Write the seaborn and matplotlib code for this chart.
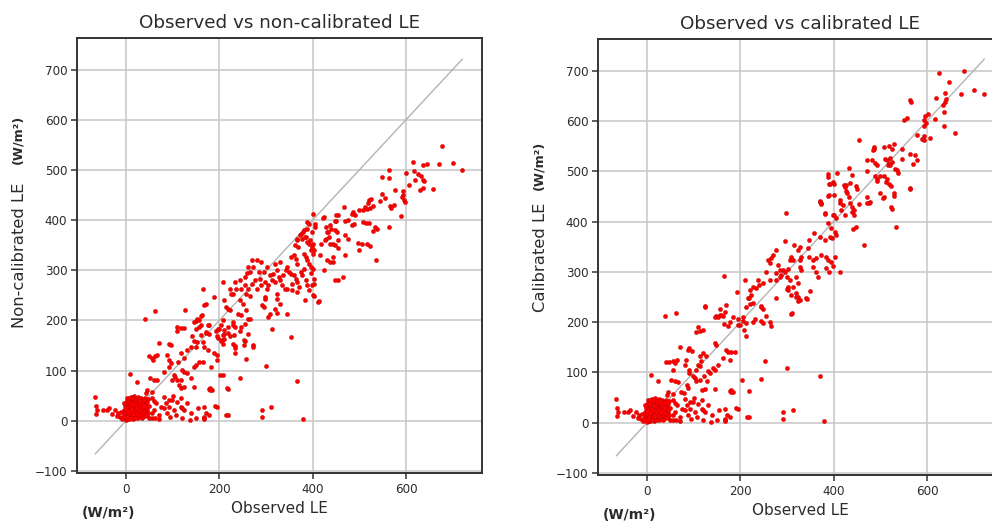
import matplotlib
matplotlib.use("Agg")
import matplotlib.pyplot as plt
import numpy as np
import pandas as pd
import seaborn as sns

# Observations shared by both panels: the dense cluster near the origin
origin_obs = [
    -66, -64, -63, -65, -50, -41, -37, -23, -18, -12,
    -5, -30, -20, -8, -10,
    0, 2, 4, 6, 8, 10, 12, 14, 16, 18,
    20, 22, 24, 26, 28, 30, 32, 34, 36, 38,
    1, 3, 5, 7, 9, 11, 13, 15, 17, 19,
    21, 23, 25, 27, 29, 31, 33, 35, 37, 40,
    -2, -4, -1, -3, -6, 0, 2, 4, 6, 8,
    10, 12, 14, 16, 18, 20, 22, 24, 26, 28,
    30, 32, 34, 36, 38, 42, 44, 41, 43, 45,
    3, 5, 7, 9, 11, 13, 15, 17, 19, 21,
    23, 25, 27, 29, 31, 33, 35, 37, 39, 1,
    -1, 5, 9, 13, 17, 21, 25, 29, 33, 14,
    18, 22, 26, 30, 10, 6, 16, 20, 24, 12,
    8, 4, 28, 32, 36, 40, 44, 19, 11, 3,
    15, 23, 27, 31, 35, 7, -5, 46, 48, 47,
]
origin_le = [
    48, 29, 21, 14, 22, 21, 25, 21, 16, 8,
    11, 14, 10, 3, 18,
    5, 12, 18, 25, 30, 22, 15, 28, 35, 20,
    26, 31, 18, 40, 24, 33, 21, 28, 14, 36,
    28, 35, 9, 16, 40, 33, 8, 19, 42, 12,
    38, 10, 29, 16, 44, 11, 39, 23, 30, 18,
    15, 22, 2, 30, 8, 38, 45, 3, 33, 10,
    47, 36, 4, 26, 49, 7, 43, 35, 6, 37,
    15, 46, 9, 41, 25, 32, 12, 45, 26, 38,
    20, 27, 4, 19, 26, 45, 11, 30, 36, 17,
    24, 48, 33, 20, 27, 15, 36, 19, 42, 17,
    24, 14, 31, 22, 24, 29, 21, 31, 24, 17,
    27, 21, 27, 22, 28, 20, 14, 32, 25, 24,
    36, 40, 12, 34, 29, 10, 21, 5, 6, 8,
    33, 14, 44, 39, 6, 46, 35, 28, 15, 43,
]

# Low-flux observations (also identical in both panels)
low_obs = [
    49, 56, 63, 70, 74, 81, 92, 103, 117, 124,
    139, 150, 168, 171, 178, 196, 218, 81, 92, 99,
    85, 117, 45, 56, 42, 117, 124, 146, 178, 185,
    218, 138, 120, 120, 168, 168, 168, 191, 181, 181,
    215, 55, 60, 65, 70, 95, 108, 130, 155, 55,
    50, 60, 88, 100, 110,
]
low_le = [
    5, 5, 5, 3, 28, 25, 27, 21, 28, 21,
    15, 5, 5, 15, 11, 27, 11, 48, 41, 41,
    35, 45, 61, 58, 55, 65, 68, 68, 63, 61,
    63, 1, 5, 25, 3, 8, 28, 30, 65, 62,
    11, 15, 22, 35, 12, 8, 12, 35, 25, 45,
    30, 40, 15, 50, 38,
]

# Remaining observations, non-calibrated model
noncal_obs = [
    9, 24, 52, 59, 67, 103, 106, 99, 110, 113,
    92, 81, 117, 139, 207, 124, 131, 120, 146, 150,
    182, 157, 164, 117, 124, 112, 131, 139, 175, 189,
    196, 88, 92, 96, 49, 56, 63, 67, 58, 153,
    150, 70, 92, 96, 171, 160, 198, 205, 211, 218,
    207, 177, 198, 110, 117, 124, 109, 162, 157, 150,
    160, 63, 40, 126, 171, 202, 216, 245, 195, 258,

    400, 389, 393, 424, 454, 451, 429, 434, 440, 447,
    452, 436, 429, 454, 448, 444, 386, 389, 393, 396,
    403, 400, 375, 378, 382, 366, 363, 382, 385, 389,
    393, 396, 400, 443, 444, 454, 360, 353, 364, 367,
    382, 375, 378, 385, 389, 393, 396, 402, 404, 411,
    400, 383, 345, 349, 342, 353, 337, 331, 360, 364,
    367, 356, 371, 345, 356, 366, 320, 324, 327, 316,
    309, 313, 320, 305, 331, 335, 340, 302, 296, 324,
    323, 331, 298, 303, 280, 289, 269, 280, 289, 262,
    273, 266, 284, 256, 260, 287, 276, 269, 262, 258,
    266, 298, 295, 291, 309, 324, 345, 305, 320, 313,
    353, 244, 255, 247, 233, 236, 229, 222, 225, 207,
    211, 215, 222, 218, 244, 251, 258, 262, 240, 247,
    266, 255, 298, 189, 167, 164, 160, 207, 204, 200,
    153, 146, 149, 156, 175, 178, 171, 193, 196, 211,
    211, 222, 229, 233, 229, 247, 244, 262, 229, 233,
    255, 142, 146, 167, 164, 204, 207, 218, 300, 311,
    291, 291, 366, 379, 252, 252, 234, 234, 231, 273,
    273, 448, 466, 438, 413, 402, 399, 536, 470, 500,
    455, 425, 430, 415,

    677, 721, 700, 671, 659, 616, 637, 646, 564, 563,
    548, 601, 617, 625, 632, 637, 639, 619, 607, 630,
    636, 593, 594, 591, 596, 597, 577, 548, 555, 544,
    566, 574, 569, 521, 526, 519, 512, 509, 516, 523,
    530, 590, 564, 537, 530, 487, 484, 491, 500, 468,
    448, 451, 469, 476, 423, 507, 514, 521, 485, 489,
    534, 405, 398, 437, 430, 426, 419, 437, 469, 476,
    498, 505, 517, 523, 387, 380, 373, 384, 366, 369,
    394, 398, 401, 405,
]
noncal_le = [
    93, 78, 85, 81, 81, 91, 88, 81, 81, 71,
    108, 98, 81, 85, 91, 98, 95, 101, 108, 111,
    108, 118, 118, 135, 125, 118, 141, 148, 141, 135,
    131, 131, 121, 115, 129, 125, 129, 131, 121, 158,
    148, 155, 153, 151, 175, 171, 165, 161, 181, 175,
    171, 191, 183, 187, 185, 185, 180, 211, 201, 198,
    191, 218, 203, 220, 233, 92, 65, 85, 122, 123,

    412, 397, 393, 407, 410, 399, 387, 377, 383, 380,
    377, 367, 363, 360, 350, 353, 367, 357, 353, 340,
    340, 333, 373, 363, 380, 360, 350, 333, 327, 320,
    313, 307, 303, 327, 317, 280, 330, 327, 323, 313,
    303, 297, 290, 280, 270, 260, 295, 283, 273, 237,
    250, 240, 307, 297, 300, 293, 290, 317, 290, 283,
    277, 273, 267, 263, 260, 257, 313, 300, 287, 293,
    290, 280, 277, 270, 280, 270, 263, 307, 297, 253,
    243, 233, 277, 263, 263, 270, 320, 321, 317, 307,
    307, 297, 297, 287, 295, 283, 280, 273, 263, 253,
    248, 243, 227, 230, 213, 215, 213, 207, 223, 183,
    168, 280, 270, 263, 277, 263, 253, 263, 253, 277,
    240, 227, 220, 223, 240, 233, 220, 203, 213, 210,
    203, 193, 247, 247, 230, 263, 208, 200, 190, 183,
    203, 197, 183, 187, 190, 173, 177, 180, 170, 173,
    163, 170, 197, 187, 190, 187, 180, 173, 153, 150,
    160, 170, 160, 147, 157, 160, 153, 187, 110, 27,
    22, 7, 80, 3, 151, 161, 135, 145, 171, 151,
    148, 280, 286, 317, 238, 248, 271, 321, 330, 340,
    345, 300, 320, 330,

    548, 499, 513, 512, 462, 515, 510, 511, 499, 483,
    485, 493, 497, 492, 487, 480, 477, 480, 471, 460,
    465, 459, 450, 447, 440, 437, 461, 452, 445, 439,
    428, 430, 425, 440, 443, 435, 427, 420, 423, 425,
    428, 408, 387, 383, 379, 417, 412, 411, 420, 427,
    399, 410, 399, 400, 405, 397, 395, 395, 390, 393,
    387, 387, 377, 390, 377, 360, 353, 353, 370, 363,
    355, 353, 353, 348, 383, 377, 370, 367, 363, 347,
    360, 347, 353, 393,
]

# Remaining observations, calibrated model
cal_obs = [
    39, 62, 125, 170, 168, 163, 156, 147, 109, 113,
    105, 120, 174, 177, 195, 206, 213, 207, 212, 145,
    148, 70, 91, 87, 97, 170, 174, 181, 188, 120,
    113, 127, 41, 48, 55, 61, 64, 84, 82, 109,
    116, 113, 152, 141, 163, 177, 55, 91, 90, 130,
    134, 145, 105, 102, 98, 123, 128, 113, 105, 9,
    23, 52, 61, 66, 87, 85, 73, 80, 370, 300,
    312, 292, 292, 379, 245, 204, 252,

    390, 399, 423, 370, 374, 388, 413, 420, 427, 381,
    399, 406, 388, 395, 402, 406, 397, 392, 359, 370,
    381, 348, 345, 327, 323, 316, 295, 309, 306, 313,
    327, 331, 348, 356, 363, 374, 384, 388, 395, 291,
    302, 327, 331, 356, 363, 367, 384, 391, 399, 404,
    413, 277, 270, 266, 259, 263, 280, 284, 288, 295,
    300, 306, 320, 324, 313, 302, 303, 309, 320, 324,
    327, 309, 341, 277, 284, 276, 256, 263, 249, 238,
    241, 234, 227, 220, 223, 216, 209, 192, 245, 249,
    244, 227, 219, 221, 213, 256, 277, 266, 264, 245,
    249, 231, 227, 206, 199, 184, 166, 156, 164, 124,
    145, 152, 159, 195, 297, 311, 320, 324, 342, 349,
    300, 449, 466, 534, 524, 563, 441,

    679, 626, 648, 701, 723, 673, 638, 641, 639, 634,
    636, 620, 564, 566, 602, 596, 593, 598, 594, 618,
    637, 661, 606, 593, 589, 594, 579, 550, 557, 454,
    486, 487, 484, 508, 518, 525, 529, 546, 546, 564,
    575, 579, 571, 511, 514, 521, 525, 518, 516, 521,
    532, 536, 538, 471, 482, 489, 493, 432, 439, 407,
    387, 389, 471, 489, 494, 493, 499, 509, 514, 513,
    518, 523, 564, 400, 393, 427, 425, 391, 400, 436,
    449, 450, 429, 434, 471, 479, 475, 500, 507, 506,
    529, 530, 525, 454, 471, 414, 416, 436, 439, 439,
    443, 444, 371, 373, 382, 400, 425,
]
cal_le = [
    212, 219, 233, 235, 220, 212, 215, 213, 191, 182,
    180, 184, 193, 200, 195, 202, 199, 185, 172, 159,
    155, 151, 149, 145, 142, 145, 140, 140, 140, 139,
    133, 132, 120, 120, 122, 119, 124, 125, 115, 115,
    122, 112, 115, 109, 129, 125, 104, 105, 99, 102,
    99, 104, 105, 89, 92, 93, 82, 85, 82, 95,
    82, 85, 82, 81, 69, 75, 62, 60, 93, 108,
    25, 22, 7, 3, 87, 85, 122,

    475, 478, 473, 440, 437, 451, 443, 433, 460, 417,
    413, 407, 397, 387, 380, 373, 367, 370, 377, 370,
    363, 363, 347, 350, 343, 353, 362, 330, 323, 323,
    323, 330, 330, 323, 327, 333, 330, 323, 320, 303,
    305, 309, 303, 310, 300, 290, 307, 300, 311, 329,
    300, 343, 333, 327, 323, 317, 313, 303, 293, 300,
    290, 283, 290, 277, 270, 270, 263, 253, 257, 250,
    243, 217, 247, 283, 290, 297, 300, 283, 277, 283,
    273, 267, 270, 263, 253, 247, 283, 260, 233, 227,
    230, 238, 247, 237, 230, 213, 247, 193, 200, 203,
    198, 207, 200, 210, 195, 210, 197, 227, 291, 231,
    211, 210, 215, 207, 417, 219, 249, 242, 245, 261,
    265, 389, 354, 389, 429, 467, 385,

    700, 696, 678, 661, 654, 653, 656, 643, 638, 632,
    618, 646, 642, 638, 614, 610, 602, 596, 590, 603,
    590, 576, 567, 570, 565, 563, 572, 602, 605, 563,
    549, 544, 542, 549, 550, 545, 554, 545, 525, 535,
    532, 522, 515, 525, 522, 527, 519, 515, 512, 512,
    505, 502, 497, 522, 523, 517, 512, 507, 492, 497,
    494, 489, 501, 490, 485, 481, 490, 490, 484, 479,
    475, 470, 464, 474, 474, 472, 468, 452, 452, 477,
    470, 464, 457, 448, 449, 439, 437, 457, 449, 446,
    457, 450, 424, 434, 436, 437, 422, 437, 429, 419,
    423, 414, 439, 435, 416, 413, 413,
]

x_ticks = [0, 200, 400, 600]
y_ticks = [-100, 0, 100, 200, 300, 400, 500, 600, 700]

TEXT = "#2b2b2b"

sns.set_style("ticks")
plt.rcParams["font.family"] = ["DejaVu Sans"]
plt.rcParams["axes.edgecolor"] = "#333333"
plt.rcParams["axes.linewidth"] = 1.4

fig = plt.figure(figsize=(9.92, 5.25), dpi=100)
W, H = 992, 525
ax_left = fig.add_axes([77 / W, 1 - 473 / H, 405 / W, 435 / H])
ax_right = fig.add_axes([598 / W, 1 - 475 / H, 405 / W, 436 / H])


def panel(ax, obs, le, title, ylab, unit_y):
    df = pd.DataFrame({"obs": obs, "model": le})
    ax.set_axisbelow(True)
    ax.grid(True, color="#c6c6c6", linewidth=1.1)
    lo, hi = df["obs"].min(), df["obs"].max()
    ax.plot([lo, hi], [lo, hi], color="#b3b3b3", linewidth=1.0, zorder=2)
    sns.scatterplot(data=df, x="obs", y="model", ax=ax, color="red",
                    s=9, edgecolor="#c40000", linewidth=0.3, zorder=3,
                    legend=False)
    ax.set_xlim(-105, 763)
    ax.set_ylim(-104, 763)
    ax.set_xticks(x_ticks)
    ax.set_yticks(y_ticks)
    ax.tick_params(axis="both", labelsize=8.6, length=4, width=1.1,
                   colors="#333333", labelcolor=TEXT, pad=3)
    ax.set_title(title, fontsize=13.2, color=TEXT, pad=7)
    ax.set_xlabel("Observed LE", fontsize=11, color=TEXT, labelpad=4)
    ax.set_ylabel(ylab, fontsize=11.8, color=TEXT)
    ax.yaxis.set_label_coords(-0.124, 0.5)
    # unit note stacked above the y-axis label
    ax.text(-0.145, unit_y, "(W/m²)", transform=ax.transAxes, rotation=90,
            ha="center", va="center", fontsize=9.2, fontweight="bold",
            color=TEXT)
    # unit note under the x-axis tick labels
    ax.text(0.079, -0.092, "(W/m²)", transform=ax.transAxes,
            ha="center", va="center", fontsize=10, fontweight="bold",
            color=TEXT)


panel(ax_left, origin_obs + low_obs + noncal_obs,
      origin_le + low_le + noncal_le,
      "Observed vs non-calibrated LE", "Non-calibrated LE", 0.768)
panel(ax_right, origin_obs + low_obs + cal_obs,
      origin_le + low_le + cal_le,
      "Observed vs calibrated LE", "Calibrated LE", 0.71)

fig.savefig("out.png", dpi=100, facecolor="white")
